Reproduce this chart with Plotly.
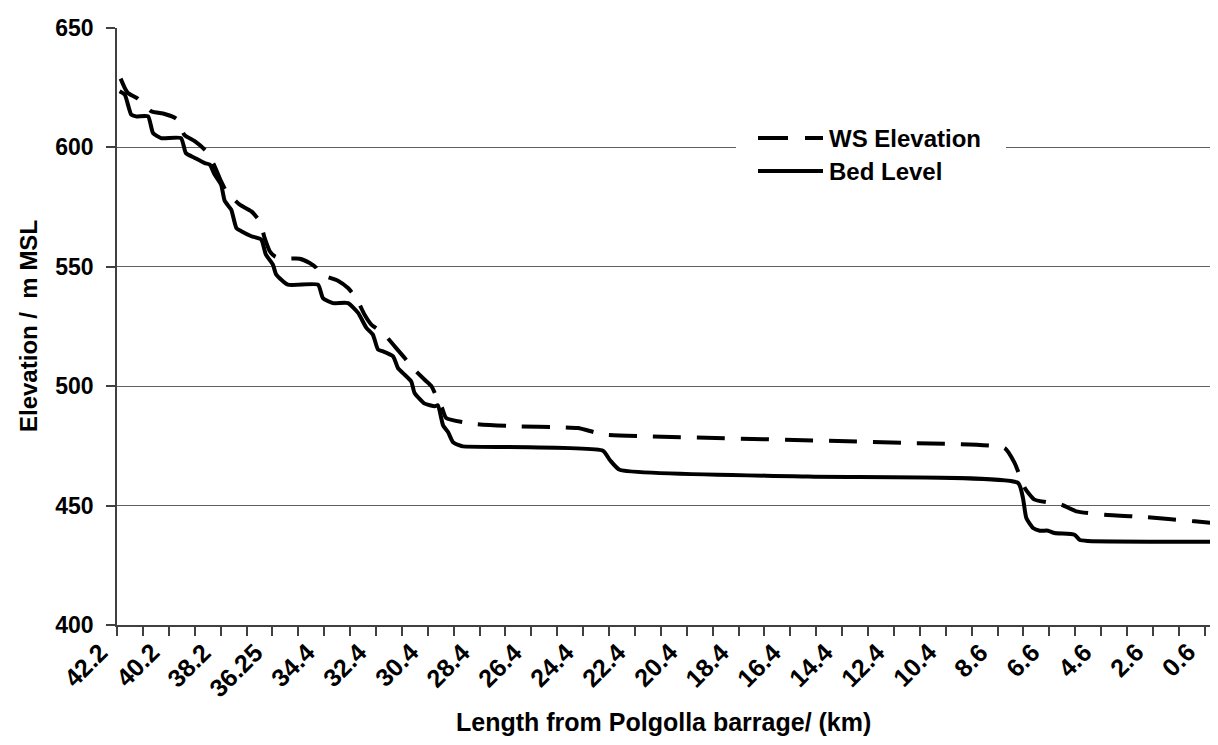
import plotly.graph_objects as go

# ---- data (x = station position along the category axis, 1 unit = 1 tick) ----
tick_labels = ["42.2", "40.2", "38.2", "36.25", "34.4", "32.4", "30.4", "28.4", "26.4",
               "24.4", "22.4", "20.4", "18.4", "16.4", "14.4", "12.4", "10.4", "8.6",
               "6.6", "4.6", "2.6", "0.6"]

bed_station = [0.10, 0.30, 0.55, 0.73, 1.20, 1.39, 1.70, 2.47, 2.66, 3.00, 3.39, 3.58, 3.77,
               4.02, 4.16, 4.41, 4.61, 4.80, 5.19, 5.57, 5.75, 6.02, 6.15, 6.60, 7.76, 7.95,
               8.34, 8.92, 9.31, 9.63, 9.88, 10.08, 10.27, 10.66, 10.85, 11.04, 11.36, 11.49,
               11.88, 12.27, 12.39, 12.59, 12.78, 12.97, 13.23, 13.36, 18.76, 19.03, 19.41,
               26.68, 34.79, 34.98, 35.11, 35.37, 35.63, 35.95, 36.20, 36.97, 37.18, 37.49,
               42.82]
bed_level = [623.5, 622.1, 613.7, 613.0, 613.0, 606.0, 603.9, 603.9, 597.6, 595.6, 593.4,
             592.8, 588.6, 584.4, 577.6, 573.9, 566.2, 564.9, 562.8, 561.4, 555.1, 550.9,
             546.7, 542.5, 542.5, 536.9, 534.8, 534.8, 530.7, 524.4, 521.6, 515.3, 514.6,
             512.5, 507.6, 505.5, 502.0, 497.2, 492.7, 491.6, 492.0, 483.6, 480.8, 476.6,
             475.2, 474.8, 473.0, 469.1, 465.0, 462.2, 459.5, 453.2, 444.8, 440.6, 439.5,
             439.5, 438.5, 437.8, 435.6, 435.2, 434.8]

ws_station = [0.14, 0.30, 0.42, 0.81, 1.32, 1.84, 2.29, 2.61, 3.00, 3.45, 3.77, 4.02, 4.22,
              4.74, 5.19, 5.51, 5.70, 5.90, 6.09, 6.34, 7.05, 7.44, 7.70, 7.83, 8.53, 8.92,
              9.24, 9.56, 9.82, 10.27, 10.72, 11.11, 11.36, 11.88, 12.14, 12.39, 12.55,
              12.71, 13.75, 15.42, 17.15, 17.80, 18.83, 20.50, 30.54, 34.27, 34.66, 35.05,
              35.43, 36.46, 37.04, 38.13, 39.81, 41.61, 42.82]
ws_elevation = [628.8, 624.9, 622.8, 620.4, 615.1, 614.0, 612.0, 605.1, 602.6, 598.4, 592.1,
                585.8, 581.6, 576.0, 573.2, 569.1, 562.1, 556.5, 554.4, 553.4, 553.4, 551.6,
                549.5, 547.0, 544.2, 541.1, 536.9, 529.9, 525.8, 522.3, 516.7, 511.8, 508.3,
                502.7, 500.0, 494.3, 490.9, 486.7, 484.3, 483.2, 482.8, 482.5, 479.7, 479.0,
                476.2, 474.1, 467.8, 457.4, 452.5, 450.4, 447.6, 446.2, 445.1, 443.4, 442.3]

FONT = "Liberation Sans, Arial, sans-serif"

tickvals = list(range(0, 43))
label_pos = [2 * i for i in range(len(tick_labels))]

fig = go.Figure()
fig.add_trace(go.Scatter(x=ws_station, y=ws_elevation, mode="lines", name="WS Elevation",
                         line=dict(color="black", width=4, dash="28px,16px",
                                   shape="spline", smoothing=0.5)))
fig.add_trace(go.Scatter(x=bed_station, y=bed_level, mode="lines", name="Bed Level",
                         line=dict(color="black", width=4, shape="spline", smoothing=0.5)))

W, H = 1218, 745
L, R, T, B = 109, 0, 20, 128


def px(xp):
    return (xp - L) / (W - L - R)


def py(yp):
    return (H - B - yp) / (H - T - B)


# manual legend (white box interrupting the gridline, long line samples)
shapes = [
    dict(type="rect", xref="paper", yref="paper", x0=px(728), x1=px(998), y0=py(185), y1=py(110),
         fillcolor="white", line=dict(width=0), layer="above"),
    dict(type="line", xref="paper", yref="paper", x0=px(750), x1=px(815), y0=py(130), y1=py(130),
         line=dict(color="black", width=4, dash="30px,17px"), layer="above"),
    dict(type="line", xref="paper", yref="paper", x0=px(750), x1=px(815), y0=py(163), y1=py(163),
         line=dict(color="black", width=4), layer="above"),
]
bold = lambda s: dict(family=FONT, size=s, color="black", weight="bold")
annotations = [
    dict(text="WS Elevation", xref="paper", yref="paper", x=px(819), y=py(130), xanchor="left",
         yanchor="middle", showarrow=False, font=bold(24)),
    dict(text="Bed Level", xref="paper", yref="paper", x=px(819), y=py(163), xanchor="left",
         yanchor="middle", showarrow=False, font=bold(24)),
    dict(text="Length from Polgolla barrage/ (km)", xref="paper", yref="paper", x=px(655),
         y=py(714), xanchor="center", yanchor="middle", showarrow=False, font=bold(25)),
    dict(text="Elevation /  m MSL", xref="paper", yref="paper", x=px(20), y=py(318),
         xanchor="center", yanchor="middle", textangle=-90, showarrow=False, font=bold(24)),
]
# rotated category labels (end of text at the tick, like the original)
for pos, lab in zip(label_pos, tick_labels):
    annotations.append(dict(text=lab, xref="x", yref="paper", x=pos, y=0, xshift=-3, yshift=-11,
                            xanchor="right", yanchor="top", textangle=-45, showarrow=False,
                            font=bold(25), borderpad=0))

fig.update_layout(
    width=W, height=H, autosize=False,
    margin=dict(l=L, r=R, t=T, b=B, pad=0),
    paper_bgcolor="white", plot_bgcolor="white",
    showlegend=False,
    shapes=shapes, annotations=annotations,
    font=dict(family=FONT, color="black"),
)
fig.update_xaxes(
    range=[0, 42.82], tickmode="array", tickvals=tickvals, showticklabels=False,
    ticks="outside", ticklen=9, tickwidth=1.5, tickcolor="#404040",
    showline=True, linecolor="#404040", linewidth=1.5, showgrid=False, zeroline=False,
)
fig.update_yaxes(
    range=[400, 650], tickmode="linear", tick0=400, dtick=50,
    ticks="outside", ticklen=9, tickwidth=1.5, tickcolor="#404040", ticklabelstandoff=8,
    tickfont=bold(23),
    showline=True, linecolor="#404040", linewidth=1.5,
    showgrid=True, gridcolor="#606060", gridwidth=1, zeroline=False,
)

fig.write_html("out.html")
